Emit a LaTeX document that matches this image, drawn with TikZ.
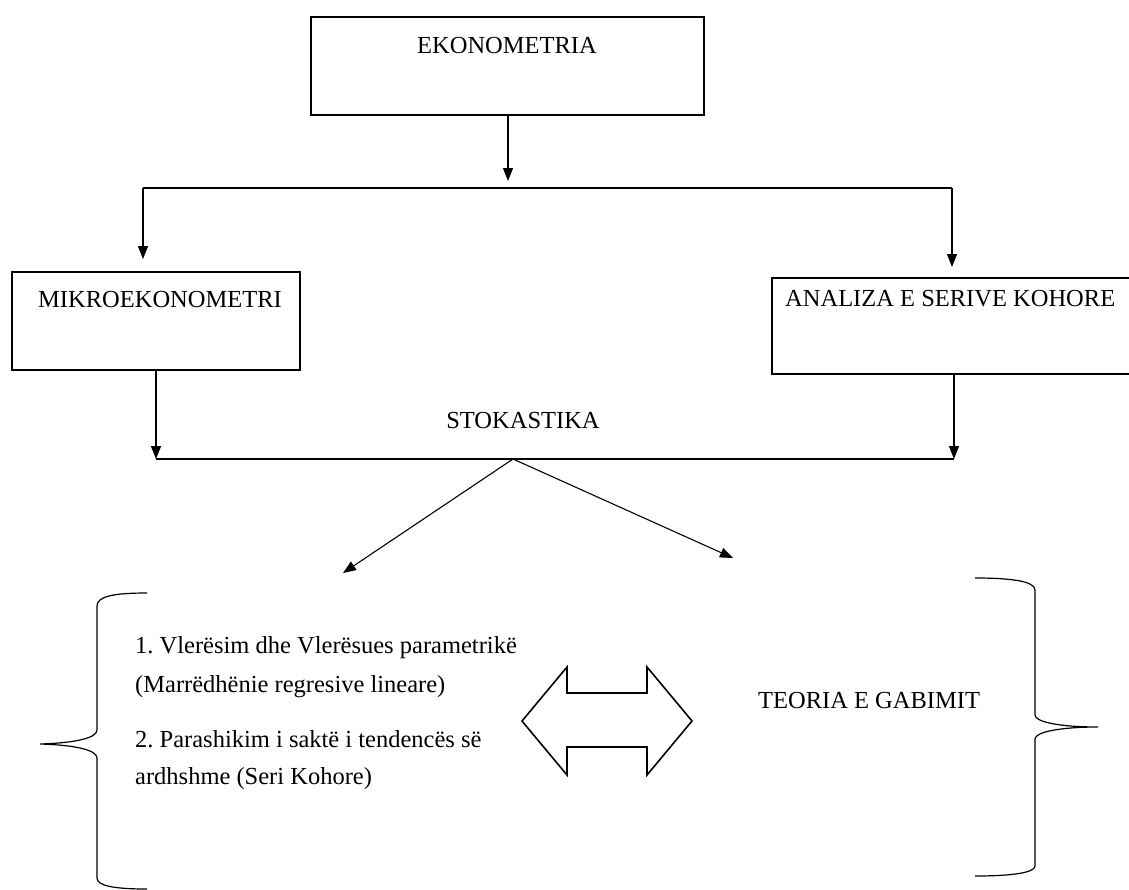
\documentclass[tikz,border=0pt]{standalone}
\usepackage{fontspec}
\setmainfont{Liberation Serif}
\usetikzlibrary{arrows.meta}
\frenchspacing
\begin{document}
\begin{tikzpicture}[x=1pt,y=-1pt,
  box/.style={draw, line width=1.1pt, inner sep=0pt},
  lbl/.style={font=\fontsize{24.5}{29}\selectfont, inner sep=0pt},
  conn/.style={line width=1.1pt},
  arr/.style={conn, -{Triangle[length=13pt,width=10pt]}},
  brace/.style={line width=1.2pt},
  dbl/.style={line width=1.6pt, line join=miter}]
\useasboundingbox (0,0) rectangle (1129,889);
\clip (0,0) rectangle (1129,889);
\fill[white] (0,0) rectangle (1129,889);

% boxes
\node[box, minimum width=393pt, minimum height=98pt] (ekon) at (507.5,66) {};
\node[box, minimum width=288pt, minimum height=98pt] (micro) at (156,321) {};
\node[box, minimum width=362pt, minimum height=96pt] (ts) at (953,326) {};

% texts
\node[lbl, anchor=base] (ekont) at (507,53) {EKONOMETRIA};
\node[lbl, anchor=base west] (microt) at (38,307) {MIKROEKONOMETRI};
\node[lbl, anchor=base west] (tst) at (785,306) {ANALIZA E SERIVE KOHORE};
\node[lbl, anchor=base] (stok) at (523,428) {STOKASTIKA};
\node[lbl, anchor=base west] (l1) at (135,653) {1. Vlerësim dhe Vlerësues parametrikë};
\node[lbl, anchor=base west] (l2) at (135,692) {(Marrëdhënie regresive lineare)};
\node[lbl, anchor=base west] (l3) at (135,747) {2. Parashikim i saktë i tendencës së};
\node[lbl, anchor=base west] (l4) at (135,784) {ardhshme (Seri Kohore)};
\node[lbl, anchor=base west] (teoria) at (758,708) {TEORIA E GABIMIT};

% connectors
\coordinate (t1) at (508,181);
\coordinate (hl) at (143,188);
\coordinate (hr) at (952,188);
\coordinate (ml) at (143,259);
\coordinate (mr) at (952,267);
\draw[arr] (ekon.south -| t1) -- (t1);
\draw[conn] (hl) -- (hr);
\draw[arr] (hl) -- (ml);
\draw[arr] (hr) -- (mr);

\coordinate (bl) at (156,459);
\coordinate (br) at (954,459);
\draw[arr] (micro.south -| bl) -- (bl);
\draw[arr] (ts.south -| br) -- (br);
\draw[conn] (bl) -- (br);

\coordinate (apex) at (513,459);
\coordinate (dl) at (343,573);
\coordinate (dr) at (733,558);
\draw[arr] (apex) -- (dl);
\draw[arr] (apex) -- (dr);

% double arrow
\draw[dbl] (522,721) -- (567,667) -- (567,693) -- (647,693) -- (647,667)
  -- (692,721) -- (647,775) -- (647,747) -- (567,747) -- (567,775) -- cycle;

% left brace
\draw[brace] (147,593) .. controls (115,593) and (97,596) .. (97,606)
  -- (97,730) .. controls (97,738) and (75,743) .. (40,744)
  .. controls (75,745) and (97,750) .. (97,758)
  -- (97,878) .. controls (97,886) and (115,889) .. (147,889);

% right brace
\draw[brace] (975,578) .. controls (1010,578) and (1035,581) .. (1035,590)
  -- (1035,715) .. controls (1035,722) and (1060,727) .. (1098,727)
  .. controls (1060,727) and (1035,732) .. (1035,739)
  -- (1035,866) .. controls (1035,873) and (1010,876) .. (975,876);
\end{tikzpicture}
\end{document}
